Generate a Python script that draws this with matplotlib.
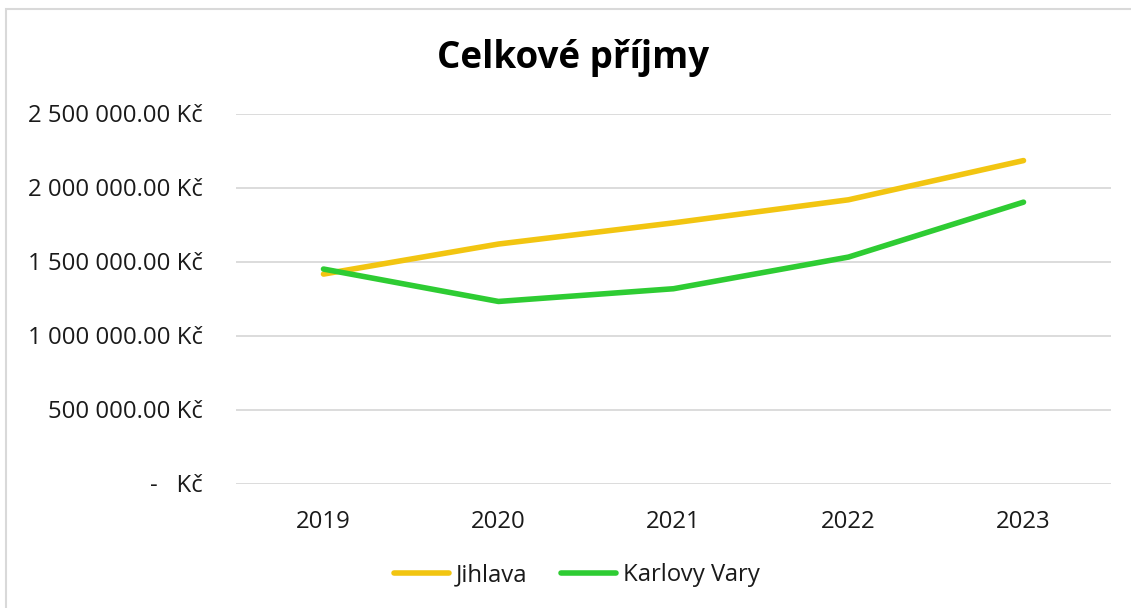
import matplotlib.pyplot as plt
from matplotlib import font_manager as fm
from matplotlib.patches import Rectangle
from matplotlib.ticker import FuncFormatter

years = ['2019', '2020', '2021', '2022', '2023']
jihlava = [1415000, 1618000, 1761000, 1917000, 2182000]
karlovy_vary = [1449000, 1230000, 1316000, 1530000, 1901000]

yellow = '#F2C511'
green = '#2ECC33'
grid = '#D9D9D9'

# pick the static Open Sans files
def font_file(name):
  for f in fm.fontManager.ttflist:
    if f.fname.endswith(name):
      return f.fname
  return None

reg_file = font_file('OpenSans-Regular.ttf')
bold_file = font_file('OpenSans-Bold.ttf')
label_font = fm.FontProperties(fname=reg_file, size=17.2) if reg_file else fm.FontProperties(family='DejaVu Sans', size=15)
title_font = fm.FontProperties(fname=bold_file, size=26.5) if bold_file else fm.FontProperties(family='DejaVu Sans', weight='bold', size=22)

def kc(v, pos):
  if v == 0:
    return '-   Kč'
  s = f'{v:,.2f}'.replace(',', ' ')
  return s + ' Kč'

fig = plt.figure(figsize=(11.31, 6.08), dpi=100)
W, H = 1131, 608

# outer chart frame (only the left and top edges fall inside the image)
fig.patches.append(Rectangle((6 / W, -0.1), 1.2, 1 - 9.5 / H + 0.1,
                             transform=fig.transFigure, fill=False,
                             edgecolor='#D9D9D9', linewidth=1.5))

ax = fig.add_axes([236 / W, 1 - 483.5 / H, 875 / W, 370 / H])
x = range(len(years))
ax.plot(x, jihlava, color=yellow, lw=4, solid_capstyle='round',
        solid_joinstyle='round', label='Jihlava')
ax.plot(x, karlovy_vary, color=green, lw=4, solid_capstyle='round',
        solid_joinstyle='round', label='Karlovy Vary')

ax.set_xlim(-0.5, 4.5)
ax.set_ylim(0, 2500000)
ax.set_yticks(range(0, 2500001, 500000))
ax.yaxis.set_major_formatter(FuncFormatter(kc))
ax.set_xticks(list(x))
ax.set_xticklabels(years)
ax.grid(axis='y', color=grid, lw=1.3)
ax.set_axisbelow(True)
for s in ax.spines.values():
  s.set_visible(False)
ax.tick_params(axis='y', length=0, pad=24, labelcolor='#1a1a1a')
ax.tick_params(axis='x', length=0, pad=19, labelcolor='#1a1a1a')
for lab in ax.get_xticklabels() + ax.get_yticklabels():
  lab.set_fontproperties(label_font)

fig.text(573 / W, 1 - 58 / H, 'Celkové příjmy', ha='center', va='center',
         fontproperties=title_font, color='black')

fig.legend(loc='center', bbox_to_anchor=(577 / W, 1 - 575 / H), ncol=2,
           frameon=False, prop=label_font, handlelength=2.3,
           handletextpad=0.3, columnspacing=1.4, labelcolor='#1a1a1a')

fig.savefig('out.png', dpi=100)
